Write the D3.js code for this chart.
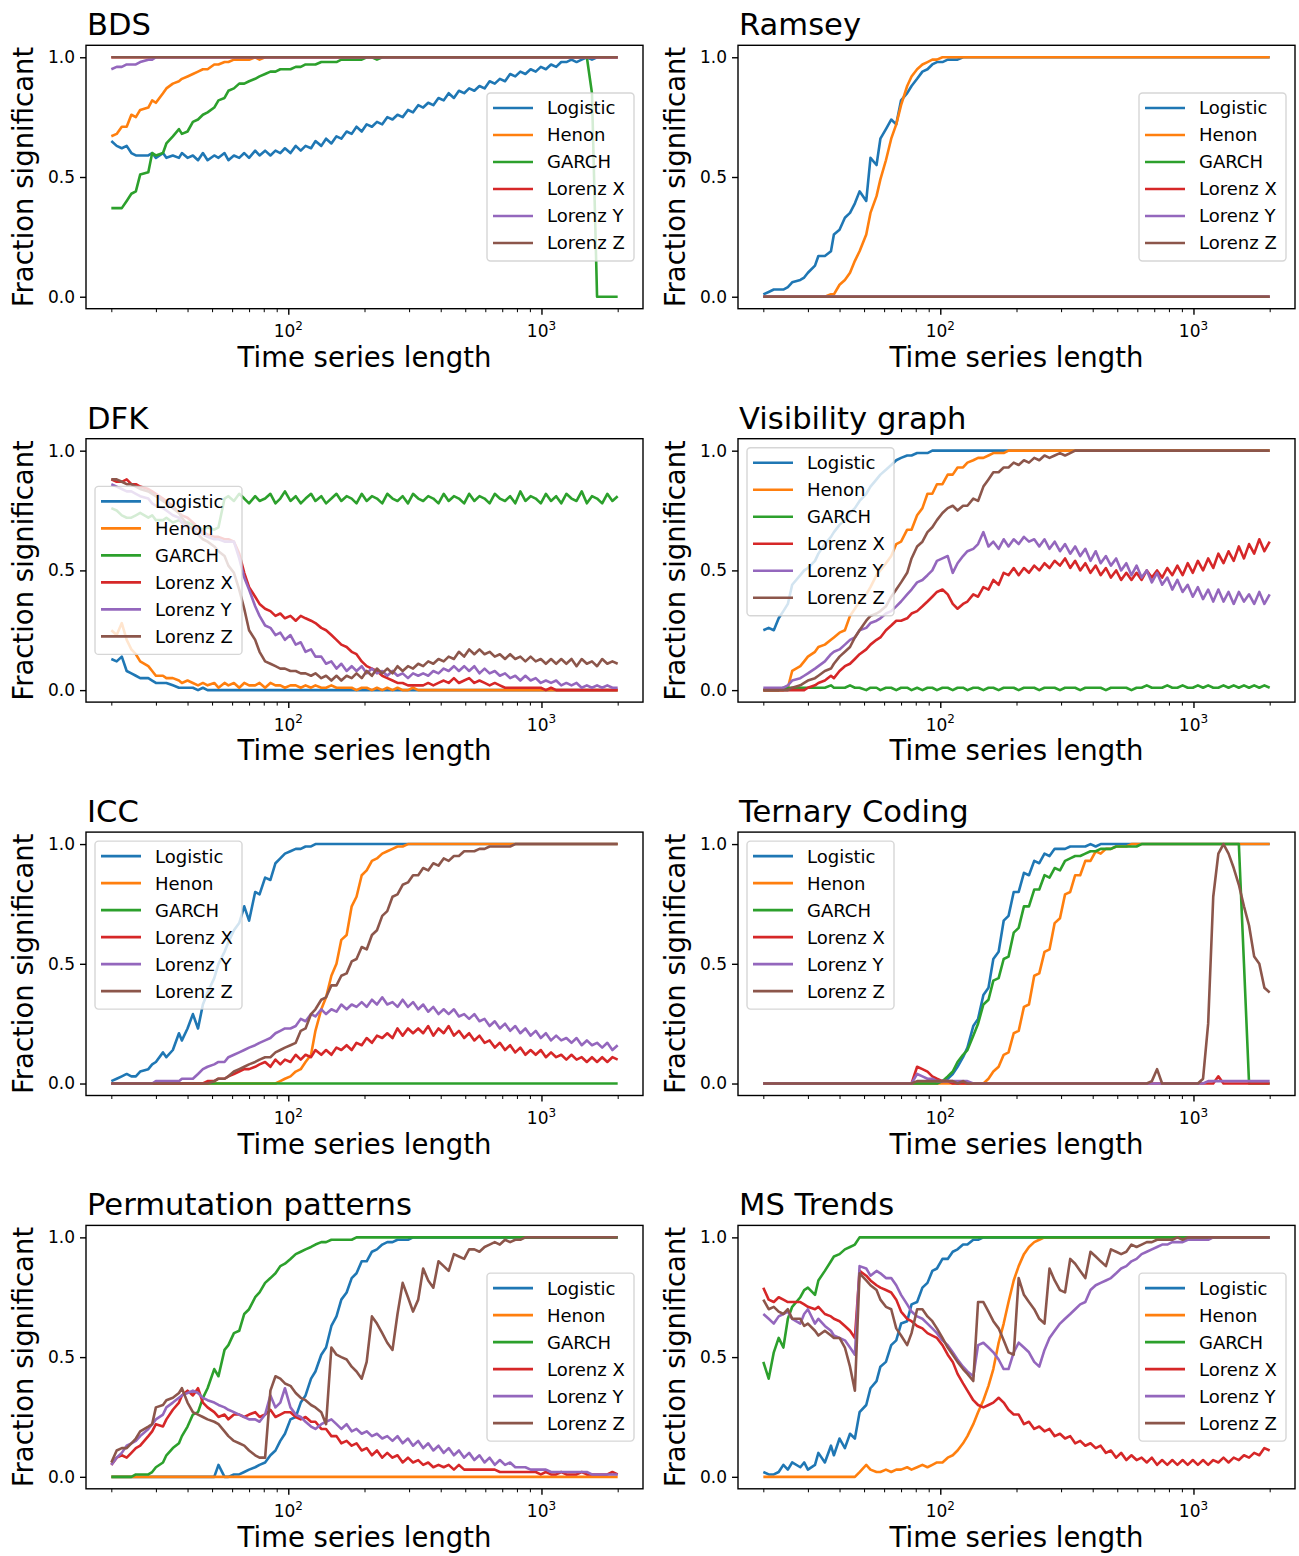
<!DOCTYPE html>
<html>
<head>
<meta charset="utf-8">
<script src="https://cdn.jsdelivr.net/npm/d3@7"></script>
<style>
  body { margin: 0; background: #ffffff; }
  svg { display: block; }
  text { font-family: "DejaVu Sans", sans-serif; fill: #000000; }
</style>
</head>
<body>
<svg id="fig" width="1299" height="1556"></svg>
<script>
// Time series lengths at which the tests were evaluated
const lengths = [
  20,21,22,23,24,25,26,28,29,30,
  32,33,35,37,38,40,42,44,46,48,
  51,53,56,58,61,64,67,70,74,77,
  81,85,89,93,97,102,107,112,117,123,
  128,135,141,148,155,162,170,178,186,195,
  204,214,224,235,246,258,270,283,297,311,
  326,341,357,374,392,411,430,451,472,495,
  518,543,569,596,624,654,685,718,752,788,
  825,864,906,949,994,1041,1091,1143,1197,1254,
  1314,1376,1442,1511,1583,1658,1737,1820,1906,2000
];

const seriesNames = ["Logistic", "Henon", "GARCH", "Lorenz X", "Lorenz Y", "Lorenz Z"];
const yTickValues = [0, 0.5, 1.0];
const xMajorTicks = [100, 1000];
const xMinorTicks = [20, 30, 40, 50, 60, 70, 80, 90, 200, 300, 400, 500, 600, 700, 800, 900, 2000];

// Percentage of runs in which each test was significant, one value per length above

// BDS
const bdsLogistic = [
  65,63,62,63,60,59,59,59,60,58,
  60,58,59,58,60,58,59,57,60,57,
  59,58,60,57,59,58,60,58,61,59,
  61,59,61,60,62,60,63,61,63,62,
  65,63,66,64,67,66,69,68,71,69,
  72,71,73,72,75,74,76,75,78,77,
  80,79,81,80,83,82,85,83,86,85,
  87,86,88,87,90,89,91,90,93,92,
  94,93,95,94,96,95,97,96,98,98,
  99,98,99,100,99,100,100,100,100,100
];
const bdsHenon = [
  67,68,71,71,76,75,78,79,82,81,
  85,87,89,90,91,92,93,94,95,95,
  97,97,98,98,99,99,99,99,100,99,
  100,100,100,100,100,100,100,100,100,100,
  100,100,100,100,100,100,100,100,100,100,
  100,100,100,100,100,100,100,100,100,100,
  100,100,100,100,100,100,100,100,100,100,
  100,100,100,100,100,100,100,100,100,100,
  100,100,100,100,100,100,100,100,100,100,
  100,100,100,100,100,100,100,100,100,100
];
const bdsGarch = [
  37,37,37,40,43,44,51,52,60,59,
  60,64,67,70,68,69,73,74,76,77,
  79,82,83,86,87,89,89,90,91,92,
  93,94,94,95,95,95,96,96,97,97,
  97,98,98,98,98,99,99,99,99,99,
  100,100,99,100,100,100,100,100,100,100,
  100,100,100,100,100,100,100,100,100,100,
  100,100,100,100,100,100,100,100,100,100,
  100,100,100,100,100,100,100,100,100,100,
  100,100,100,100,85,0,0,0,0,0
];
const bdsLorenzX = [
  100,100,100,100,100,100,100,100,100,100,
  100,100,100,100,100,100,100,100,100,100,
  100,100,100,100,100,100,100,100,100,100,
  100,100,100,100,100,100,100,100,100,100,
  100,100,100,100,100,100,100,100,100,100,
  100,100,100,100,100,100,100,100,100,100,
  100,100,100,100,100,100,100,100,100,100,
  100,100,100,100,100,100,100,100,100,100,
  100,100,100,100,100,100,100,100,100,100,
  100,100,100,100,100,100,100,100,100,100
];
const bdsLorenzY = [
  95,96,96,97,97,97,98,99,99,100,
  100,100,100,100,100,100,100,100,100,100,
  100,100,100,100,100,100,100,100,100,100,
  100,100,100,100,100,100,100,100,100,100,
  100,100,100,100,100,100,100,100,100,100,
  100,100,100,100,100,100,100,100,100,100,
  100,100,100,100,100,100,100,100,100,100,
  100,100,100,100,100,100,100,100,100,100,
  100,100,100,100,100,100,100,100,100,100,
  100,100,100,100,100,100,100,100,100,100
];
const bdsLorenzZ = [
  100,100,100,100,100,100,100,100,100,100,
  100,100,100,100,100,100,100,100,100,100,
  100,100,100,100,100,100,100,100,100,100,
  100,100,100,100,100,100,100,100,100,100,
  100,100,100,100,100,100,100,100,100,100,
  100,100,100,100,100,100,100,100,100,100,
  100,100,100,100,100,100,100,100,100,100,
  100,100,100,100,100,100,100,100,100,100,
  100,100,100,100,100,100,100,100,100,100,
  100,100,100,100,100,100,100,100,100,100
];

// Ramsey
const ramLogistic = [
  1,2,3,3,3,4,6,7,8,10,
  13,17,17,19,26,28,33,35,39,44,
  40,58,55,66,70,74,72,82,85,88,
  91,94,95,97,98,98,99,99,99,100,
  100,100,100,100,100,100,100,100,100,100,
  100,100,100,100,100,100,100,100,100,100,
  100,100,100,100,100,100,100,100,100,100,
  100,100,100,100,100,100,100,100,100,100,
  100,100,100,100,100,100,100,100,100,100,
  100,100,100,100,100,100,100,100,100,100
];
const ramHenon = [
  0,0,0,0,0,0,0,0,0,0,
  0,0,0,1,1,5,7,10,15,19,
  26,35,42,49,57,66,72,80,88,92,
  95,97,98,99,99,100,100,100,100,100,
  100,100,100,100,100,100,100,100,100,100,
  100,100,100,100,100,100,100,100,100,100,
  100,100,100,100,100,100,100,100,100,100,
  100,100,100,100,100,100,100,100,100,100,
  100,100,100,100,100,100,100,100,100,100,
  100,100,100,100,100,100,100,100,100,100
];
const ramGarch = [
  0,0,0,0,0,0,0,0,0,0, 0,0,0,0,0,0,0,0,0,0,
  0,0,0,0,0,0,0,0,0,0, 0,0,0,0,0,0,0,0,0,0,
  0,0,0,0,0,0,0,0,0,0, 0,0,0,0,0,0,0,0,0,0,
  0,0,0,0,0,0,0,0,0,0, 0,0,0,0,0,0,0,0,0,0,
  0,0,0,0,0,0,0,0,0,0, 0,0,0,0,0,0,0,0,0,0
];
const ramLorenzX = [
  0,0,0,0,0,0,0,0,0,0, 0,0,0,0,0,0,0,0,0,0,
  0,0,0,0,0,0,0,0,0,0, 0,0,0,0,0,0,0,0,0,0,
  0,0,0,0,0,0,0,0,0,0, 0,0,0,0,0,0,0,0,0,0,
  0,0,0,0,0,0,0,0,0,0, 0,0,0,0,0,0,0,0,0,0,
  0,0,0,0,0,0,0,0,0,0, 0,0,0,0,0,0,0,0,0,0
];
const ramLorenzY = [
  0,0,0,0,0,0,0,0,0,0, 0,0,0,0,0,0,0,0,0,0,
  0,0,0,0,0,0,0,0,0,0, 0,0,0,0,0,0,0,0,0,0,
  0,0,0,0,0,0,0,0,0,0, 0,0,0,0,0,0,0,0,0,0,
  0,0,0,0,0,0,0,0,0,0, 0,0,0,0,0,0,0,0,0,0,
  0,0,0,0,0,0,0,0,0,0, 0,0,0,0,0,0,0,0,0,0
];
const ramLorenzZ = [
  0,0,0,0,0,0,0,0,0,0, 0,0,0,0,0,0,0,0,0,0,
  0,0,0,0,0,0,0,0,0,0, 0,0,0,0,0,0,0,0,0,0,
  0,0,0,0,0,0,0,0,0,0, 0,0,0,0,0,0,0,0,0,0,
  0,0,0,0,0,0,0,0,0,0, 0,0,0,0,0,0,0,0,0,0,
  0,0,0,0,0,0,0,0,0,0, 0,0,0,0,0,0,0,0,0,0
];

// DFK
const dfkLogistic = [
  13,12,14,8,7,6,5,5,4,3,
  3,3,2,1,1,1,1,0,1,0,
  0,0,0,0,0,0,0,0,0,0, 0,0,0,0,0,0,0,0,0,0,
  0,0,0,0,0,0,0,0,0,0, 0,0,0,0,0,0,0,0,0,0,
  0,0,0,0,0,0,0,0,0,0, 0,0,0,0,0,0,0,0,0,0,
  0,0,0,0,0,0,0,0,0,0, 0,0,0,0,0,0,0,0,0,0
];
const dfkHenon = [
  25,23,28,21,17,15,12,10,8,6,
  6,5,5,4,3,4,3,2,3,2,
  3,1,3,2,3,1,3,2,2,3,
  1,3,2,2,1,2,2,1,2,1,
  2,1,1,2,1,1,1,1,0,1,
  1,0,1,0,1,0,1,0,0,1,
  0,0,0,0,0,0,0,0,0,0, 0,0,0,0,0,0,0,0,0,0,
  0,0,0,0,0,0,0,0,0,0, 0,0,0,0,0,0,0,0,0,0
];
const dfkGarch = [
  76,75,73,72,72,73,74,72,73,71,
  71,72,70,71,70,70,69,68,67,68,
  67,68,80,81,79,82,80,78,81,79,
  80,82,78,80,83,79,81,78,80,82,
  79,81,78,80,82,79,81,80,78,82,
  79,81,80,78,82,80,79,81,78,82,
  80,79,81,80,78,82,79,81,80,78,
  82,79,81,80,78,82,80,79,81,78,
  83,79,81,80,78,82,79,81,78,82,
  80,79,83,78,81,80,78,82,79,81
];
const dfkLorenzX = [
  88,87,87,88,86,86,85,84,83,82,
  80,79,77,74,73,72,70,68,66,65,
  64,64,63,63,62,57,49,43,39,36,
  34,33,31,32,30,31,29,31,30,29,
  28,26,25,23,21,19,18,16,15,12,
  10,9,8,6,5,4,3,3,2,2,
  2,2,3,2,3,4,3,5,3,4,
  5,3,4,3,2,3,2,1,1,1,
  1,1,1,1,1,0,1,0,0,0,
  0,0,0,0,0,0,0,0,0,0
];
const dfkLorenzY = [
  86,85,84,83,83,82,81,80,78,77,
  76,75,73,72,70,68,68,67,65,64,
  63,63,62,62,62,55,47,42,35,31,
  27,26,23,24,21,23,19,20,16,17,
  14,14,11,12,9,11,8,10,8,10,
  7,9,7,8,6,8,6,7,5,7,
  6,7,6,8,7,9,8,10,8,10,
  8,10,7,9,7,8,6,7,5,6,
  4,6,4,5,3,4,3,4,2,3,
  2,3,1,2,1,2,1,2,1,1
];
const dfkLorenzZ = [
  88,88,87,86,86,85,84,83,82,81,
  79,78,76,74,72,69,67,65,63,62,
  60,58,56,52,49,42,34,25,21,16,
  12,11,10,9,9,8,8,7,7,6,
  7,5,6,4,6,4,6,5,7,5,
  8,6,9,7,9,7,10,8,10,9,
  11,10,12,11,13,12,14,13,16,14,
  17,15,17,15,16,14,15,13,15,13,
  14,12,14,12,13,11,13,11,13,11,
  13,10,13,11,12,10,13,11,12,11
];

// Visibility graph
const vgLogistic = [
  25,26,25,30,33,36,44,48,50,51,
  54,57,61,64,66,69,71,74,76,79,
  82,85,88,90,92,94,96,97,98,98,
  99,99,99,100,100,100,100,100,100,100,
  100,100,100,100,100,100,100,100,100,100,
  100,100,100,100,100,100,100,100,100,100,
  100,100,100,100,100,100,100,100,100,100,
  100,100,100,100,100,100,100,100,100,100,
  100,100,100,100,100,100,100,100,100,100,
  100,100,100,100,100,100,100,100,100,100
];
const vgHenon = [
  0,0,0,0,0,1,8,10,12,14,
  16,18,19,21,22,24,25,31,34,37,
  40,43,48,50,53,56,61,62,67,67,
  73,76,82,82,86,86,90,90,93,93,
  95,96,97,97,98,99,99,99,100,100,
  100,100,100,100,100,100,100,100,100,100,
  100,100,100,100,100,100,100,100,100,100,
  100,100,100,100,100,100,100,100,100,100,
  100,100,100,100,100,100,100,100,100,100,
  100,100,100,100,100,100,100,100,100,100
];
const vgGarch = [
  0,0,0,0,1,1,1,1,1,1,
  1,1,1,2,1,1,1,2,1,1,
  0,1,1,0,1,1,0,1,1,0,
  1,0,1,1,0,1,1,0,1,1,
  0,1,1,0,1,1,0,1,1,1,
  0,1,1,1,0,1,1,1,0,1,
  1,1,0,1,1,1,1,0,1,1,
  1,1,0,1,1,2,1,1,1,2,
  1,1,2,1,1,2,1,2,1,1,
  2,1,2,1,2,1,2,1,2,1
];
const vgLorenzX = [
  0,0,0,0,0,0,0,0,0,1,
  2,3,4,6,5,8,10,11,13,15,
  17,19,21,22,25,27,29,29,30,32,
  33,35,37,39,41,42,40,36,34,36,
  37,40,39,43,42,46,44,49,48,51,
  48,51,49,52,50,53,51,54,52,55,
  51,54,50,53,49,52,48,51,47,50,
  46,49,46,49,46,50,47,50,47,51,
  48,52,48,53,49,54,50,55,51,57,
  53,58,54,60,55,61,57,63,58,62
];
const vgLorenzY = [
  1,1,1,1,1,2,4,5,6,7,
  9,10,12,15,16,17,19,21,22,25,
  26,28,29,30,32,33,35,37,40,42,
  45,46,48,50,54,55,56,49,53,56,
  58,59,61,66,60,62,59,63,60,63,
  61,64,62,63,60,63,59,62,58,61,
  57,60,56,59,54,58,53,56,52,55,
  50,53,48,52,47,50,45,49,44,47,
  42,46,41,44,39,43,38,42,37,42,
  37,41,36,41,37,40,36,41,36,40
];
const vgLorenzZ = [
  0,0,0,0,0,0,1,2,3,4,
  5,6,8,9,11,14,16,18,22,25,
  29,31,32,33,35,39,42,45,49,55,
  60,62,66,68,71,74,76,77,75,77,
  77,80,79,85,88,91,91,93,93,95,
  94,96,95,97,96,98,97,98,99,98,
  99,100,100,100,100,100,100,100,100,100,
  100,100,100,100,100,100,100,100,100,100,
  100,100,100,100,100,100,100,100,100,100,
  100,100,100,100,100,100,100,100,100,100
];

// ICC
const iccLogistic = [
  1,2,3,4,3,3,5,6,8,9,
  13,11,14,21,18,23,29,23,33,38,
  44,50,55,59,64,67,74,68,80,79,
  86,85,92,94,96,97,98,98,99,99,
  100,100,100,100,100,100,100,100,100,100,
  100,100,100,100,100,100,100,100,100,100,
  100,100,100,100,100,100,100,100,100,100,
  100,100,100,100,100,100,100,100,100,100,
  100,100,100,100,100,100,100,100,100,100,
  100,100,100,100,100,100,100,100,100,100
];
const iccHenon = [
  0,0,0,0,0,0,0,0,0,0,
  0,0,0,0,0,0,0,0,0,0,
  0,0,0,0,0,0,0,0,0,0,
  0,0,0,1,2,3,5,6,9,12,
  22,31,36,45,50,60,62,74,78,87,
  89,93,94,96,97,98,99,99,100,100,
  100,100,100,100,100,100,100,100,100,100,
  100,100,100,100,100,100,100,100,100,100,
  100,100,100,100,100,100,100,100,100,100,
  100,100,100,100,100,100,100,100,100,100
];
const iccGarch = [
  0,0,0,0,0,0,0,0,0,0, 0,0,0,0,0,0,0,0,0,0,
  0,0,0,0,0,0,0,0,0,0, 0,0,0,0,0,0,0,0,0,0,
  0,0,0,0,0,0,0,0,0,0, 0,0,0,0,0,0,0,0,0,0,
  0,0,0,0,0,0,0,0,0,0, 0,0,0,0,0,0,0,0,0,0,
  0,0,0,0,0,0,0,0,0,0, 0,0,0,0,0,0,0,0,0,0
];
const iccLorenzX = [
  0,0,0,0,0,0,0,0,0,0,
  0,0,0,0,0,0,0,0,0,1,
  1,2,2,3,4,5,6,6,7,8,
  9,7,10,8,10,9,12,10,12,11,
  14,12,14,12,15,14,16,14,17,16,
  19,17,20,19,21,19,23,20,23,21,
  23,21,24,20,23,21,24,20,22,19,
  21,18,20,17,18,15,17,14,16,13,
  15,12,14,12,14,11,13,11,12,10,
  12,10,11,9,11,9,11,9,11,10
];
const iccLorenzY = [
  0,0,0,0,0,0,0,0,0,1,
  1,1,1,1,2,2,2,4,6,7,
  8,9,9,11,12,13,14,15,16,17,
  18,19,21,22,23,23,24,27,26,29,
  28,31,29,31,30,33,31,33,32,34,
  32,35,33,36,33,34,32,35,32,34,
  31,33,30,32,29,31,29,31,28,29,
  27,29,26,27,24,26,23,25,22,24,
  21,23,20,22,19,21,18,20,18,19,
  17,19,16,18,16,17,15,17,14,16
];
const iccLorenzZ = [
  0,0,0,0,0,0,0,0,0,0,
  0,0,0,0,0,0,0,0,0,0,
  1,2,2,3,5,6,7,8,9,10,
  11,11,13,14,15,16,17,22,23,29,
  31,35,36,41,41,45,46,51,52,57,
  56,62,64,70,72,78,79,83,84,87,
  87,90,89,92,91,94,93,95,95,97,
  97,97,98,98,99,99,99,99,99,100,
  100,100,100,100,100,100,100,100,100,100,
  100,100,100,100,100,100,100,100,100,100
];

// Ternary Coding
const terLogistic = [
  0,0,0,0,0,0,0,0,0,0,
  0,0,0,0,0,0,0,0,0,0,
  0,0,0,0,0,0,0,0,0,0,
  0,0,0,0,0,1,2,4,7,11,
  15,24,27,37,40,52,55,68,70,80,
  80,88,87,93,92,96,95,98,98,98,
  99,99,99,99,100,99,100,100,100,100,
  100,100,100,100,100,100,100,100,100,100,
  100,100,100,100,100,100,100,100,100,100,
  100,100,100,100,100,100,100,100,100,100
];
const terHenon = [
  0,0,0,0,0,0,0,0,0,0,
  0,0,0,0,0,0,0,0,0,0,
  0,0,0,0,0,0,0,0,0,0,
  0,0,0,0,0,0,0,0,0,0,
  0,0,0,0,2,5,7,12,13,21,
  22,32,33,45,46,55,56,67,69,79,
  80,87,87,93,93,97,96,98,98,99,
  99,99,100,100,100,100,100,100,100,100,
  100,100,100,100,100,100,100,100,100,100,
  100,100,100,100,100,100,100,100,100,100
];
const terGarch = [
  0,0,0,0,0,0,0,0,0,0,
  0,0,0,0,0,0,0,0,0,0,
  0,0,0,0,0,0,0,0,0,0,
  0,0,0,0,0,1,3,5,9,12,
  14,20,25,33,35,43,44,52,53,63,
  65,74,74,81,81,87,86,90,89,93,
  94,95,95,96,97,97,98,98,98,99,
  99,99,99,99,100,100,100,100,100,100,
  100,100,100,100,100,100,100,100,100,100,
  100,100,100,100,50,0,0,0,0,0
];
const terLorenzX = [
  0,0,0,0,0,0,0,0,0,0,
  0,0,0,0,0,0,0,0,0,0,
  0,0,0,0,0,0,0,0,0,0,
  7,6,5,3,2,1,1,0,0,0,
  0,0,0,0,0,0,0,0,0,0,
  0,0,0,0,0,0,0,0,0,0,
  0,0,0,0,0,0,0,0,0,0,
  0,0,0,0,0,0,0,0,0,0,
  0,0,0,0,0,0,0,0,0,3,
  0,0,0,0,0,0,0,0,0,0
];
const terLorenzY = [
  0,0,0,0,0,0,0,0,0,0,
  0,0,0,0,0,0,0,0,0,0,
  0,0,0,0,0,0,0,0,0,0,
  4,3,2,2,1,1,1,1,1,1,
  1,0,0,0,0,0,0,0,0,0,
  0,0,0,0,0,0,0,0,0,0,
  0,0,0,0,0,0,0,0,0,0,
  0,0,0,0,0,0,0,0,0,0,
  0,0,0,0,0,0,0,1,1,1,
  1,1,1,1,1,1,1,1,1,1
];
const terLorenzZ = [
  0,0,0,0,0,0,0,0,0,0,
  0,0,0,0,0,0,0,0,0,0,
  0,0,0,0,0,0,0,0,0,0,
  1,1,1,1,1,1,1,1,0,1,
  0,0,0,0,0,0,0,0,0,0,
  0,0,0,0,0,0,0,0,0,0,
  0,0,0,0,0,0,0,0,0,0,
  0,0,0,0,0,0,1,6,0,0,
  0,0,0,0,0,0,2,25,78,96,
  100,96,90,83,74,66,53,50,40,38
];

// Permutation patterns
const permLogistic = [
  0,0,0,0,0,0,0,0,0,0,
  0,0,0,0,0,0,0,0,0,0,
  0,5,0,0,1,1,2,3,4,5,
  6,9,11,15,18,24,25,31,34,41,
  44,51,54,63,67,74,77,83,85,90,
  90,94,95,97,98,98,99,99,99,100,
  100,100,100,100,100,100,100,100,100,100,
  100,100,100,100,100,100,100,100,100,100,
  100,100,100,100,100,100,100,100,100,100,
  100,100,100,100,100,100,100,100,100,100
];
const permHenon = [
  0,0,0,0,0,0,0,0,0,0, 0,0,0,0,0,0,0,0,0,0,
  0,0,0,0,0,0,0,0,0,0, 0,0,0,0,0,0,0,0,0,0,
  0,0,0,0,0,0,0,0,0,0, 0,0,0,0,0,0,0,0,0,0,
  0,0,0,0,0,0,0,0,0,0, 0,0,0,0,0,0,0,0,0,0,
  0,0,0,0,0,0,0,0,0,0, 0,0,0,0,0,0,0,0,0,0
];
const permGarch = [
  0,0,0,0,0,1,1,1,2,4,
  6,9,12,14,17,21,26,27,33,37,
  45,42,53,55,60,61,68,70,75,77,
  81,83,85,88,89,91,93,94,95,96,
  97,98,98,99,99,99,99,99,100,100,
  100,100,100,100,100,100,100,100,100,100,
  100,100,100,100,100,100,100,100,100,100,
  100,100,100,100,100,100,100,100,100,100,
  100,100,100,100,100,100,100,100,100,100,
  100,100,100,100,100,100,100,100,100,100
];
const permLorenzX = [
  5,8,9,8,10,12,13,17,19,22,
  21,24,28,31,34,36,34,37,31,29,
  27,25,26,24,26,26,25,26,27,25,
  26,28,25,26,27,27,25,24,25,23,
  23,20,20,17,17,14,15,13,14,11,
  12,9,11,8,10,8,9,6,8,6,
  7,5,6,4,5,4,5,3,5,3,
  3,3,3,3,3,3,2,2,2,2,
  2,2,2,2,1,2,1,1,2,1,
  1,1,2,1,1,1,1,1,2,1
];
const permLorenzY = [
  5,8,10,13,14,15,17,20,22,24,
  26,29,31,33,34,35,36,35,33,32,
  31,30,29,28,27,26,25,24,24,23,
  26,34,29,31,37,29,26,25,23,21,
  20,22,23,24,22,20,22,19,20,18,
  19,17,18,16,17,15,17,14,16,13,
  15,12,14,11,13,10,12,9,11,8,
  10,7,9,6,8,5,7,5,6,4,
  4,4,3,3,3,3,2,2,2,2,
  2,2,2,2,1,1,1,1,1,1
];
const permLorenzZ = [
  6,11,12,12,14,16,19,21,22,29,
  30,32,33,35,37,31,27,26,25,24,
  23,22,19,17,15,14,13,11,9,8,
  8,36,42,41,39,38,35,33,32,30,
  29,27,22,54,51,50,49,46,44,41,
  48,67,64,60,56,53,68,81,75,69,
  74,87,82,79,90,88,86,93,92,91,
  95,95,94,96,97,98,97,99,98,99,
  99,100,100,100,100,100,100,100,100,100,
  100,100,100,100,100,100,100,100,100,100
];

// MS Trends
const msLogistic = [
  2,1,1,2,5,3,6,4,6,3,
  5,10,6,13,9,16,12,18,16,27,
  30,37,40,46,48,55,57,64,65,72,
  73,79,81,86,87,91,91,94,95,97,
  97,99,99,100,100,100,100,100,100,100,
  100,100,100,100,100,100,100,100,100,100,
  100,100,100,100,100,100,100,100,100,100,
  100,100,100,100,100,100,100,100,100,100,
  100,100,100,100,100,100,100,100,100,100,
  100,100,100,100,100,100,100,100,100,100
];
const msHenon = [
  0,0,0,0,0,0,0,0,0,0,
  0,0,0,0,0,0,0,0,0,2,
  5,3,2,2,3,2,3,3,4,3,
  4,5,4,5,6,6,8,9,11,14,
  17,22,27,32,38,45,56,64,73,82,
  88,93,96,98,99,100,100,100,100,100,
  100,100,100,100,100,100,100,100,100,100,
  100,100,100,100,100,100,100,100,100,100,
  100,100,100,100,100,100,100,100,100,100,
  100,100,100,100,100,100,100,100,100,100
];
const msGarch = [
  48,41,52,58,54,66,71,75,78,79,
  76,82,86,90,92,93,95,96,97,100,
  100,100,100,100,100,100,100,100,100,100,
  100,100,100,100,100,100,100,100,100,100,
  100,100,100,100,100,100,100,100,100,100,
  100,100,100,100,100,100,100,100,100,100,
  100,100,100,100,100,100,100,100,100,100,
  100,100,100,100,100,100,100,100,100,100,
  100,100,100,100,100,100,100,100,100,100,
  100,100,100,100,100,100,100,100,100,100
];
const msLorenzX = [
  79,74,73,75,74,73,73,73,72,71,
  70,71,68,67,66,65,63,61,58,86,
  84,82,80,79,78,77,74,69,66,65,
  63,62,60,59,58,55,51,48,43,39,
  36,32,30,29,30,31,33,31,28,26,
  26,22,23,20,21,19,20,17,18,16,
  17,14,15,13,14,12,13,10,11,8,
  10,7,9,7,8,6,8,5,7,5,
  7,5,7,5,7,5,7,5,7,6,
  8,6,8,7,9,8,10,9,12,11
];
const msLorenzY = [
  68,66,64,67,68,69,66,64,68,70,
  64,66,63,61,59,58,57,54,51,88,
  87,84,86,85,83,83,80,76,72,69,
  67,66,64,62,60,57,55,52,49,46,
  44,42,55,56,54,52,49,45,45,52,
  56,54,52,48,46,53,58,61,64,66,
  68,70,72,73,78,80,81,82,83,85,
  87,88,90,91,93,94,95,96,97,97,
  98,98,98,99,99,99,99,99,100,100,
  100,100,100,100,100,100,100,100,100,100
];
const msLorenzZ = [
  74,70,71,69,68,70,66,66,63,64,
  61,59,61,59,58,58,54,46,36,85,
  82,80,78,74,71,70,62,59,55,60,
  70,70,67,65,62,58,54,51,48,45,
  43,40,73,73,69,65,62,57,52,51,
  83,76,73,70,66,64,87,82,78,77,
  91,89,86,83,94,92,90,88,95,94,
  93,94,97,96,97,98,98,99,99,99,
  99,100,99,100,100,100,100,100,100,100,
  100,100,100,100,100,100,100,100,100,100
];

const panels = [
  { title: "BDS", legend: "center right",
    series: [bdsLogistic, bdsHenon, bdsGarch, bdsLorenzX, bdsLorenzY, bdsLorenzZ] },
  { title: "Ramsey", legend: "center right",
    series: [ramLogistic, ramHenon, ramGarch, ramLorenzX, ramLorenzY, ramLorenzZ] },
  { title: "DFK", legend: "center left",
    series: [dfkLogistic, dfkHenon, dfkGarch, dfkLorenzX, dfkLorenzY, dfkLorenzZ] },
  { title: "Visibility graph", legend: "upper left",
    series: [vgLogistic, vgHenon, vgGarch, vgLorenzX, vgLorenzY, vgLorenzZ] },
  { title: "ICC", legend: "upper left",
    series: [iccLogistic, iccHenon, iccGarch, iccLorenzX, iccLorenzY, iccLorenzZ] },
  { title: "Ternary Coding", legend: "upper left",
    series: [terLogistic, terHenon, terGarch, terLorenzX, terLorenzY, terLorenzZ] },
  { title: "Permutation patterns", legend: "center right",
    series: [permLogistic, permHenon, permGarch, permLorenzX, permLorenzY, permLorenzZ] },
  { title: "MS Trends", legend: "center right",
    series: [msLogistic, msHenon, msGarch, msLorenzX, msLorenzY, msLorenzZ] }
];

// ---- layout and style ----
const colors = ["#1f77b4", "#ff7f0e", "#2ca02c", "#d62728", "#9467bd", "#8c564b"];
const colLeft = [86, 738];
const rowTop = [45.3, 438.7, 832.1, 1225.4];
const plotW = 557, plotH = 263.4;
const lineW = 2.6, frameW = 1.4;
const fontTick = 17, fontLabel = 27.5, fontTitle = 30.6, fontLegend = 18;
const legendW = 147, legendH = 168, legendPad = 9, legendRow = 27;

const svg = d3.select("#fig");
svg.append("rect").attr("width", 1299).attr("height", 1556).attr("fill", "#ffffff");

panels.forEach((panel, k) => {
  const left = colLeft[k % 2];
  const top = rowTop[Math.floor(k / 2)];
  const bottom = top + plotH;

  const x = d3.scaleLog()
    .domain([d3.min(lengths) / Math.pow(10, 0.1), d3.max(lengths) * Math.pow(10, 0.1)])
    .range([left, left + plotW]);
  const y = d3.scaleLinear().domain([-0.05, 1.05]).range([bottom, top]);

  const g = svg.append("g").attr("class", "panel");

  // data lines, drawn in series order so the last series sits on top
  const line = d3.line()
    .x((d, i) => x(lengths[i]))
    .y(d => y(d / 100));
  panel.series.forEach((vals, s) => {
    g.append("path")
      .attr("d", line(vals))
      .attr("fill", "none")
      .attr("stroke", colors[s])
      .attr("stroke-width", lineW)
      .attr("stroke-linejoin", "round")
      .attr("stroke-linecap", "butt");
  });

  // axes frame
  g.append("rect")
    .attr("x", left).attr("y", top)
    .attr("width", plotW).attr("height", plotH)
    .attr("fill", "none").attr("stroke", "#000").attr("stroke-width", frameW);

  // y axis
  const yAxis = d3.axisLeft(y).tickValues(yTickValues).tickFormat(d3.format(".1f"))
    .tickSize(6).tickPadding(5);
  const yg = g.append("g").attr("transform", `translate(${left},0)`).call(yAxis);
  yg.select(".domain").remove();
  yg.selectAll(".tick line").attr("stroke-width", frameW);
  yg.selectAll(".tick text").attr("font-size", fontTick).attr("font-family", "DejaVu Sans");
  yg.attr("font-family", null).attr("font-size", null);

  // x axis: major ticks with power-of-ten labels, minor ticks unlabeled
  const xAxisMajor = d3.axisBottom(x).tickValues(xMajorTicks).tickFormat("").tickSize(6);
  const xg = g.append("g").attr("transform", `translate(0,${bottom})`).call(xAxisMajor);
  xg.select(".domain").remove();
  xg.selectAll(".tick line").attr("stroke-width", frameW);
  const xAxisMinor = d3.axisBottom(x).tickValues(xMinorTicks).tickFormat("").tickSize(3.5);
  const xmg = g.append("g").attr("transform", `translate(0,${bottom})`).call(xAxisMinor);
  xmg.select(".domain").remove();
  xmg.selectAll(".tick line").attr("stroke-width", 1.0);

  xMajorTicks.forEach(v => {
    const t = g.append("text")
      .attr("x", x(v)).attr("y", bottom + 28.5)
      .attr("text-anchor", "middle")
      .attr("font-size", fontTick);
    t.append("tspan").text("10");
    t.append("tspan").attr("font-size", 12).attr("dy", -7.5).text(String(Math.round(Math.log10(v))));
  });

  // axis labels and title
  g.append("text")
    .attr("x", left + plotW / 2).attr("y", bottom + 58)
    .attr("text-anchor", "middle").attr("font-size", fontLabel)
    .text("Time series length");
  g.append("text")
    .attr("transform", `translate(${left - 53},${top + plotH / 2}) rotate(-90)`)
    .attr("text-anchor", "middle").attr("font-size", fontLabel)
    .text("Fraction significant");
  g.append("text")
    .attr("x", left + 1).attr("y", top - 10)
    .attr("font-size", fontTitle)
    .text(panel.title);

  // legend
  let lx, ly;
  if (panel.legend === "center right") {
    lx = left + plotW - legendPad - legendW; ly = top + plotH / 2 - legendH / 2;
  } else if (panel.legend === "center left") {
    lx = left + legendPad; ly = top + plotH / 2 - legendH / 2;
  } else {
    lx = left + legendPad; ly = top + legendPad;
  }
  const lg = g.append("g").attr("class", "legend");
  lg.append("rect")
    .attr("x", lx).attr("y", ly).attr("width", legendW).attr("height", legendH)
    .attr("rx", 3.5).attr("ry", 3.5)
    .attr("fill", "#ffffff").attr("fill-opacity", 0.8)
    .attr("stroke", "#cccccc").attr("stroke-opacity", 0.8).attr("stroke-width", 1.4);
  seriesNames.forEach((name, s) => {
    const cy = ly + 15 + legendRow * s;
    lg.append("line")
      .attr("x1", lx + 6).attr("x2", lx + 46).attr("y1", cy).attr("y2", cy)
      .attr("stroke", colors[s]).attr("stroke-width", lineW);
    lg.append("text")
      .attr("x", lx + 60).attr("y", cy).attr("dy", "0.36em")
      .attr("font-size", fontLegend)
      .text(name);
  });
});
</script>
</body>
</html>
